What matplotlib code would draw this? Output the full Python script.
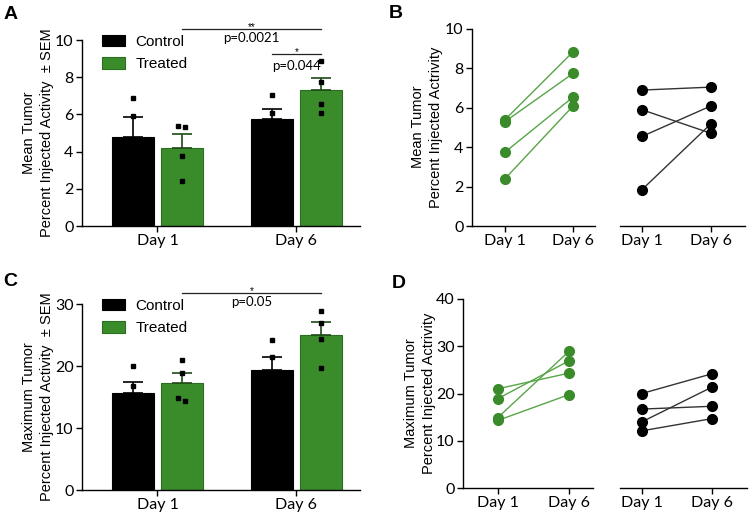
import numpy as np
import matplotlib
matplotlib.use("Agg")
import matplotlib.pyplot as plt

# values
days = ["Day 1", "Day 6"]
groups = ["Control", "Treated"]

mean_control_d1 = [6.9, 5.9, 4.55, 1.85]
mean_control_d6 = [7.05, 4.7, 6.1, 5.2]
mean_treated_d1 = [5.4, 5.3, 3.75, 2.4]
mean_treated_d6 = [8.85, 7.75, 6.55, 6.1]

max_control_d1 = [20.0, 16.7, 14.0, 12.1]
max_control_d6 = [24.2, 17.3, 21.4, 14.7]
max_treated_d1 = [21.0, 18.9, 14.9, 14.3]
max_treated_d6 = [24.3, 26.9, 28.9, 19.75]

mean_bar_sem = {"Control": [1.07, 0.52], "Treated": [0.73, 0.63]}
max_bar_sem = {"Control": [1.7, 2.1], "Treated": [1.6, 2.2]}

GREEN = "#3a8c2b"
GREEN_LINE = "#58a548"
BLACK = "#000000"

plt.rcParams["font.family"] = ["Liberation Sans", "DejaVu Sans"]
plt.rcParams["axes.linewidth"] = 1.0
plt.rcParams["xtick.major.width"] = 1.0
plt.rcParams["ytick.major.width"] = 1.0
plt.rcParams["xtick.major.size"] = 4
plt.rcParams["ytick.major.size"] = 4

W, H = 749, 513
fig = plt.figure(figsize=(W / 100, H / 100), dpi=100)


def px_axes(left, right, top, bottom):
    return fig.add_axes([left / W, 1 - bottom / H, (right - left) / W, (bottom - top) / H])


TICKFONT = dict(family=["Lato", "DejaVu Sans"], size=11.5)


def style(ax, yticks, ylim, spine_left=True):
    for s in ["top", "right"]:
        ax.spines[s].set_visible(False)
    ax.set_ylim(*ylim)
    ax.set_yticks(yticks)
    if not spine_left:
        ax.spines["left"].set_visible(False)
        ax.set_yticks([])
    for lab in ax.get_xticklabels() + ax.get_yticklabels():
        lab.set_fontfamily(TICKFONT["family"])
        lab.set_fontsize(TICKFONT["size"])
    ax.tick_params(pad=2)


def bar_panel(ax, ctrl, trt, sem, yticks, ylim):
    x = np.arange(len(days))
    off, w = 0.175, 0.30
    ctrl_means = [np.mean(v) for v in ctrl]
    trt_means = [np.mean(v) for v in trt]
    b1 = ax.bar(x - off, ctrl_means, w, color=BLACK, edgecolor=BLACK, linewidth=0.8, label="Control", zorder=2)
    b2 = ax.bar(x + off, trt_means, w, color=GREEN, edgecolor="#2c6e20", linewidth=0.8, label="Treated", zorder=2)
    ax.errorbar(x - off, ctrl_means, yerr=[[0, 0], sem["Control"]], fmt="none",
                ecolor=BLACK, elinewidth=1.2, capsize=7, capthick=1.2, zorder=3)
    ax.errorbar(x + off, trt_means, yerr=[[0, 0], sem["Treated"]], fmt="none",
                ecolor="#1f4a17", elinewidth=1.2, capsize=7, capthick=1.2, zorder=3)
    for i in range(len(days)):
        for xc, vals in [(x[i] - off, ctrl[i]), (x[i] + off, trt[i])]:
            vals = np.asarray(vals)
            xs = np.full(len(vals), xc)
            # nudge near-coincident points sideways so both stay visible
            for a in range(len(vals)):
                for b in range(a + 1, len(vals)):
                    if abs(vals[a] - vals[b]) < (ylim[1] - ylim[0]) * 0.025:
                        xs[a] -= 0.025
                        xs[b] += 0.025
            ax.plot(xs, vals, "s", ms=3.2, color=BLACK, zorder=4, clip_on=False)
    ax.set_xlim(-0.543, 1.457)
    ax.set_xticks(x)
    ax.set_xticklabels(days)
    style(ax, yticks, ylim)
    ax.legend(handles=[b1, b2], loc="upper left", bbox_to_anchor=(0.046, 1.07), frameon=False,
              borderpad=0, handlelength=1.45, handleheight=0.8, handletextpad=0.7,
              labelspacing=0.55, prop={"family": ["Liberation Sans"], "size": 11})
    return x, off


def sig(ax, x0, x1, y, star, text, ytext):
    ax.plot([x0, x1], [y, y], color="#222222", lw=0.9, clip_on=False)
    ax.annotate(star, ((x0 + x1) / 2, y), xytext=(0, -2.5), textcoords="offset points",
                ha="center", va="bottom", fontsize=7, annotation_clip=False)
    ax.text((x0 + x1) / 2, ytext, text, ha="center", va="center", fontsize=9.5,
            family=["Lato", "DejaVu Sans"], clip_on=False)


def pair_panel(ax, d1, d6, color, lcolor, xlim, yticks, ylim, spine_left):
    for a, b in zip(d1, d6):
        ax.plot([0, 1], [a, b], color=lcolor, lw=1.0, zorder=2)
    ax.plot(np.zeros(len(d1)), d1, "o", ms=7, color=color, zorder=3, clip_on=False)
    ax.plot(np.ones(len(d6)), d6, "o", ms=7, color=color, zorder=3, clip_on=False)
    ax.set_xlim(*xlim)
    ax.set_xticks([0, 1])
    ax.set_xticklabels(days)
    style(ax, yticks, ylim, spine_left)


# ---- A ----
axA = px_axes(82, 360, 40, 226)
x, off = bar_panel(axA, [mean_control_d1, mean_control_d6], [mean_treated_d1, mean_treated_d6],
                   mean_bar_sem, [0, 2, 4, 6, 8, 10], (0, 10))
sig(axA, x[0] + off, x[1] + off, 10.6, "**", "p=0.0021", 10.12)
sig(axA, x[1] - off, x[1] + off, 9.25, "*", "p=0.044", 8.62)

# ---- C ----
axC = px_axes(82, 360, 304, 490)
x, off = bar_panel(axC, [max_control_d1, max_control_d6], [max_treated_d1, max_treated_d6],
                   max_bar_sem, [0, 10, 20, 30], (0, 30))
sig(axC, x[0] + off, x[1] + off, 31.8, "*", "p=0.05", 30.35)

# ---- B ----
axB1 = px_axes(472, 595, 29, 226)
pair_panel(axB1, mean_treated_d1, mean_treated_d6, GREEN, GREEN_LINE, (-0.485, 1.32),
           [0, 2, 4, 6, 8, 10], (0, 10), True)
axB2 = px_axes(620, 745, 29, 226)
pair_panel(axB2, mean_control_d1, mean_control_d6, BLACK, "#333333", (-0.32, 1.49),
           [0, 2, 4, 6, 8, 10], (0, 10), False)

# ---- D ----
axD1 = px_axes(463, 593, 299, 488)
pair_panel(axD1, max_treated_d1, max_treated_d6, GREEN, GREEN_LINE, (-0.49, 1.34),
           [0, 10, 20, 30, 40], (0, 40), True)
axD2 = px_axes(620, 747, 299, 488)
pair_panel(axD2, max_control_d1, max_control_d6, BLACK, "#333333", (-0.31, 1.49),
           [0, 10, 20, 30, 40], (0, 40), False)

# y labels
ylab = dict(rotation=90, ha="center", va="center", fontsize=10.5, linespacing=1.35)
fig.text(38 / W, 1 - 133 / H, "Mean Tumor\nPercent Injected Activity  \u00b1 SEM", **ylab)
fig.text(38 / W, 1 - 397 / H, "Maximum Tumor\nPercent Injected Activity  \u00b1 SEM", **ylab)
fig.text(427 / W, 1 - 127 / H, "Mean Tumor\nPercent Injected Actrivity", **ylab)
fig.text(420 / W, 1 - 393 / H, "Maximum Tumor\nPercent Injected Actrivity", **ylab)

# panel letters
for lx, ly, t in [(4, 15, "A"), (389, 13, "B"), (3, 282, "C"), (392, 283, "D")]:
    fig.text(lx / W, 1 - ly / H, t, fontsize=14, fontweight="bold", ha="left", va="center")

fig.savefig("out.png", dpi=100)
